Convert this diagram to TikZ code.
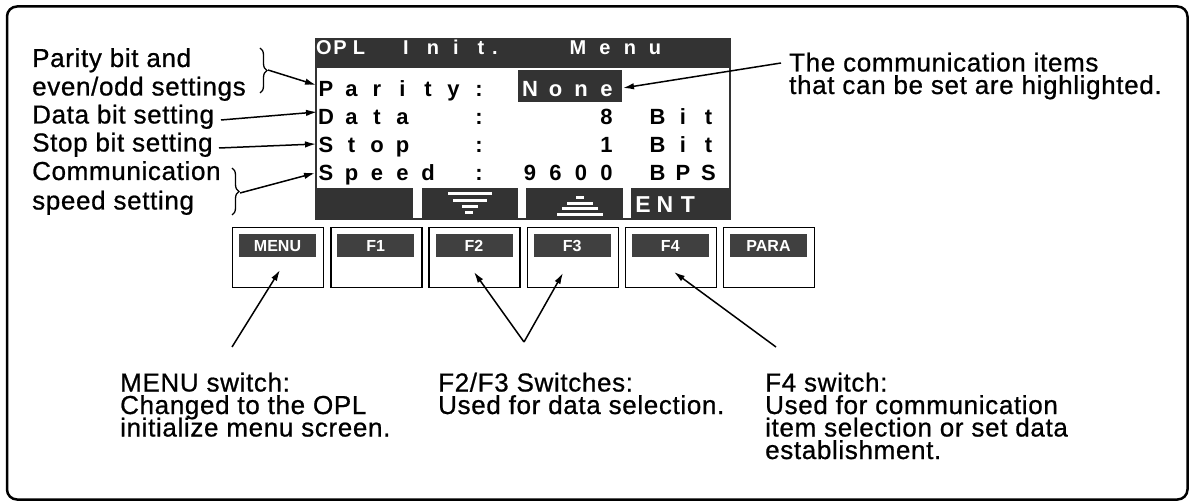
\documentclass[tikz,border=0pt]{standalone}
\usepackage{fontspec}
\setmainfont{Liberation Sans}
\newfontfamily\lblfont[LetterSpace=2.5,FakeBold=0.8]{Liberation Sans}
\usetikzlibrary{arrows.meta,decorations.pathreplacing}
\definecolor{lcddark}{gray}{0.2}
\definecolor{keydark}{gray}{0.25}
\begin{document}
\begin{tikzpicture}[x=1pt,y=-1pt,
  lbl/.style={anchor=base west,inner sep=0pt,font=\lblfont\fontsize{26}{26}\selectfont},
  lcd/.style={anchor=base,inner sep=0pt,font=\bfseries\fontsize{22}{22}\selectfont},
  lcdw/.style={lcd,text=white},
  ttl/.style={anchor=base,inner sep=0pt,text=white,font=\bfseries\fontsize{20}{20}\selectfont},
  keybox/.style={draw,line width=1.3pt,minimum width=91pt,minimum height=60pt,inner sep=0pt,anchor=north west},
  keylab/.style={fill=keydark,minimum width=77pt,minimum height=23pt,inner sep=0pt,anchor=north west},
  keytxt/.style={anchor=base,inner sep=0pt,text=white,font=\bfseries\fontsize{16}{16}\selectfont},
  enttxt/.style={anchor=base,inner sep=0pt,text=white,font=\bfseries\fontsize{23}{23}\selectfont},
  arr/.style={line width=1.5pt,-{Latex[length=11pt,width=6.5pt]}},
  brc/.style={line width=1.3pt,decorate,decoration={brace,amplitude=7pt}},
]
\useasboundingbox (0,0) rectangle (1193,502);
\draw[line width=2.5pt,rounded corners=10pt] (7,6.5) rectangle (1187.5,499.5);

% ---- LCD screen ----
\fill[lcddark] (315,38) rectangle (731,220);
\fill[white] (317,68) rectangle (729,188);
\fill[white] (413,188) rectangle (422,218);
\fill[white] (518,188) rectangle (526,218);
\fill[white] (623,188) rectangle (631,218);
\fill[lcddark] (518,70) rectangle (622,102);

% title
\foreach \x/\c [count=\n] in {324/O,340/P,359/L,406/I,433/n,456/i,481/t,495/.,578/M,605/e,630/n,655/u}
  \node[ttl,name=t\n] at (\x,54.5) {\c};

% rows
\foreach \i/\c in {0/P,1/a,2/r,3/i,4/t,5/y,6/:}
  \node[lcd,name=pa\i] at ({326+25.5*\i},96.5) {\c};
\foreach \i/\c in {8/N,9/o,10/n,11/e}
  \node[lcdw,name=pa\i] at ({326+25.5*\i},96.5) {\c};
\foreach \i/\c in {0/D,1/a,2/t,3/a,6/:,11/8,13/B,14/i,15/t}
  \node[lcd,name=da\i] at ({326+25.5*\i},124.5) {\c};
\foreach \i/\c in {0/S,1/t,2/o,3/p,6/:,11/1,13/B,14/i,15/t}
  \node[lcd,name=st\i] at ({326+25.5*\i},152.5) {\c};
\foreach \i/\c in {0/S,1/p,2/e,3/e,4/d,6/:,8/9,9/6,10/0,11/0,13/B,14/P,15/S}
  \node[lcd,name=sp\i] at ({326+25.5*\i},181) {\c};

% soft key symbols
\fill[white] (448,192.5) rectangle (492,195.5);
\fill[white] (453,199) rectangle (487,202);
\fill[white] (462,205.5) rectangle (478,208.5);
\fill[white] (465,211.5) rectangle (473,214);
\fill[white] (576,196) rectangle (584,199);
\fill[white] (567,202) rectangle (593,205);
\fill[white] (562,207.5) rectangle (598,210.5);
\fill[white] (557,213) rectangle (603,216);
\node[enttxt,name=entE] at (643,212.5) {E};
\node[enttxt,name=entN] at (665,212.5) {N};
\node[enttxt,name=entT] at (688,212.5) {T};

% ---- key boxes ----
\foreach \i/\t in {0/MENU,1/F1,2/F2,3/F3,4/F4,5/PARA}{
  \node[keybox,name=box\i] at ({232+98.2*\i},227) {};
  \node[keylab,name=lab\i] at ({239+98.2*\i},234) {};
  \node[keytxt,name=kt\i] at ({277.5+98.2*\i},252) {\t};
}

% ---- left labels ----
\node[lbl,name=l1a] at (32,67) {Parity bit and};
\node[lbl,name=l1b] at (32,95.5) {even/odd settings};
\node[lbl,name=l2] at (32,123.5) {Data bit setting};
\node[lbl,name=l3] at (32,151.5) {Stop bit setting};
\node[lbl,name=l4a] at (32,180) {Communication};
\node[lbl,name=l4b] at (32,209.5) {speed setting};

\draw[brc] (260,48) -- (260,93);
\draw[brc] (232,168) -- (232,215);
\coordinate (b1tip) at (268,70);
\coordinate (b4tip) at (240,193);
\coordinate (l2end) at (221,120);
\coordinate (l3end) at (219,148);
\coordinate (paTip) at (316,85);
\coordinate (daTip) at (317,112);
\coordinate (stTip) at (316,144);
\coordinate (spTip) at (315,173);
\draw[arr] (b1tip) -- (paTip);
\draw[arr] (l2end) -- (daTip);
\draw[arr] (l3end) -- (stTip);
\draw[arr] (b4tip) -- (spTip);

% ---- right label ----
\node[lbl,name=r1] at (789,71.5) {The communication items};
\node[lbl,name=r2] at (789,94) {that can be set are highlighted.};
\coordinate (rTail) at (781,63);
\coordinate (noneTip) at (623,88);
\draw[arr] (rTail) -- (noneTip);

% ---- bottom labels ----
\node[lbl,name=m1] at (120,391.5) {MENU switch:};
\node[lbl,name=m2] at (120,414) {Changed to the OPL};
\node[lbl,name=m3] at (120,436.5) {initialize menu screen.};
\node[lbl,name=f1] at (438,391.5) {F2/F3 Switches:};
\node[lbl,name=f2] at (438,414) {Used for data selection.};
\node[lbl,name=g1] at (765,391.5) {F4 switch:};
\node[lbl,name=g2] at (765,414) {Used for communication};
\node[lbl,name=g3] at (765,436.5) {item selection or set data};
\node[lbl,name=g4] at (765,459) {establishment.};

\coordinate (mTail) at (232,347);
\coordinate (mTip) at (280,270);
\coordinate (fApex) at (524,342);
\coordinate (f2Tip) at (474,272);
\coordinate (f3Tip) at (563,273);
\coordinate (gTail) at (776,347);
\coordinate (gTip) at (674,272);
\draw[arr] (mTail) -- (mTip);
\draw[arr] (fApex) -- (f2Tip);
\draw[arr] (fApex) -- (f3Tip);
\draw[arr] (gTail) -- (gTip);
\end{tikzpicture}
\end{document}
